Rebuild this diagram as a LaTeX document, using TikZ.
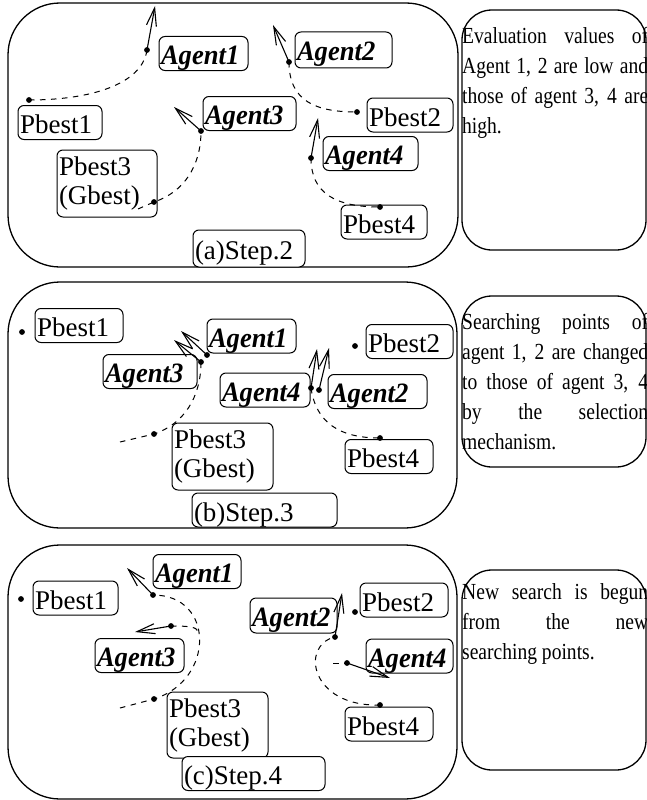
\documentclass[tikz,border=0pt]{standalone}
\usepackage{fontspec}
\setmainfont{Liberation Serif}
\newfontfamily\agentfont[FakeStretch=0.95]{Liberation Serif}
\newfontfamily\notefont[FakeStretch=0.85]{Liberation Serif}
\usetikzlibrary{arrows.meta, positioning, calc}
\newcommand{\jline}[1]{\makebox[186pt][s]{#1}}

\begin{document}
\begin{tikzpicture}[x=1pt, y=-1pt,
  panel/.style={draw, line width=1.3pt, rounded corners=52pt},
  notebox/.style={draw, line width=1.3pt, rounded corners=30pt},
  frame/.style={draw, line width=1pt, rounded corners=6pt, fill=white, inner sep=2pt, align=left,
    font=\rmfamily\fontsize{27}{29}\selectfont},
  box/.style={frame, text height=26pt, text depth=4pt},
  agent/.style={box, font=\agentfont\fontsize{28}{30}\selectfont\bfseries\itshape},
  note/.style={anchor=north west, inner sep=0pt, align=left, font=\notefont\fontsize{23}{30}\selectfont},
  trail/.style={dash pattern=on 5.5pt off 5.5pt, line width=1pt},
  move/.style={-{Straight Barb[length=18pt, width=10pt]}, line width=1.1pt}]
\fill[white] (0,0) rectangle (647,800);
\useasboundingbox (0,0) rectangle (647,800);

% frames
\draw[panel] (8,3) rectangle (458,267);
\draw[panel] (8,282) rectangle (457,528);
\draw[panel] (8,545) rectangle (457,799);
\draw[notebox] (462,10) rectangle (646,250);
\draw[notebox] (462,296) rectangle (646,467);
\draw[notebox] (462,570) rectangle (646,770);

% (a) step 2
\coordinate (p1a) at (29,100);
\coordinate (ag1a) at (147,50);
\coordinate (tip1a) at (155,6);
\coordinate (ag2a) at (289,62);
\coordinate (tip2a) at (273,25);
\coordinate (p2a) at (357,112);
\coordinate (ag3a) at (201,131);
\coordinate (tip3a) at (174,107);
\coordinate (p3a) at (154,202);
\coordinate (t3a) at (138,209);
\coordinate (ag4a) at (311,158);
\coordinate (tip4a) at (318,118);
\coordinate (p4a) at (380,207);

% (b) step 3
\coordinate (p1b) at (22,332);
\coordinate (p2b) at (355,346);
\coordinate (ag1b) at (207,355);
\coordinate (tip1b) at (181,331);
\coordinate (ag3b) at (201,362);
\coordinate (tip3b) at (174,340);
\coordinate (p3b) at (154,434);
\coordinate (t3b) at (120,442);
\coordinate (ag4b) at (311,388);
\coordinate (tip4b) at (317,349);
\coordinate (ag2b) at (319,390);
\coordinate (tip2b) at (329,348);
\coordinate (p4b) at (380,438);

% (c) step 4
\coordinate (p1c) at (21,599);
\coordinate (p2c) at (355,612);
\coordinate (ag1c) at (153,595);
\coordinate (tip1c) at (127,568);
\coordinate (ag3c) at (171,626);
\coordinate (tip3c) at (135,632);
\coordinate (j3c) at (198,633);
\coordinate (p3c) at (154,699);
\coordinate (t3c) at (120,708);
\coordinate (ag2c) at (335,637);
\coordinate (tip2c) at (342,593);
\coordinate (ag4c) at (347,663);
\coordinate (tip4c) at (390,678);
\coordinate (j4c) at (333,663);
\coordinate (p4c) at (380,705);

\draw[trail] (t3b) -- (p3b) .. controls +(30,-10) and +(0,35) .. (ag3b);

\node[agent, text width=85pt, minimum height=33pt] (agent1a) at (203.5,53.5) {Agent1};
\node[agent, text width=93pt, minimum height=36pt] (agent2a) at (343.5,50) {Agent2};
\node[box, text width=80pt, minimum height=31pt] (pbest1a) at (60,122.5) {Pbest1};
\node[agent, text width=89pt, minimum height=33pt] (agent3a) at (249.5,113.5) {Agent3};
\node[box, text width=82pt, minimum height=34pt] (pbest2a) at (410,115) {Pbest2};
\node[agent, text width=91pt, minimum height=33pt] (agent4a) at (370.5,153.5) {Agent4};
\node[frame, text width=96pt, minimum height=67pt] (pbest3a) at (107,183.5) {Pbest3\\(Gbest)};
\node[box, text width=82pt, minimum height=30pt] (pbest4a) at (384,222) {Pbest4};
\node[box, text width=108pt, minimum height=37pt] (stepa) at (249,248.5) {(a)Step.2};

\node[box, text width=84pt, minimum height=33pt] (pbest1b) at (79,325.5) {Pbest1};
\node[agent, text width=85pt, minimum height=32pt] (agent1b) at (251.5,336) {Agent1};
\node[agent, text width=90pt, minimum height=33pt] (agent3b) at (150,371.5) {Agent3};
\node[box, text width=83pt, minimum height=33pt] (pbest2b) at (409.5,341.5) {Pbest2};
\node[agent, text width=86pt, minimum height=34pt] (agent4b) at (265,390) {Agent4};
\node[agent, text width=95pt, minimum height=33pt] (agent2b) at (377.5,391.5) {Agent2};
\node[frame, text width=97pt, minimum height=67pt] (pbest3b) at (222.5,456.5) {Pbest3\\(Gbest)};
\node[box, text width=84pt, minimum height=33pt] (pbest4b) at (389,456.5) {Pbest4};
\node[box, text width=141pt, minimum height=34pt] (stepb) at (264.5,510) {(b)Step.3};

\node[box, text width=81pt, minimum height=34pt] (pbest1c) at (75.5,598) {Pbest1};
\node[agent, text width=84pt, minimum height=33pt] (agent1c) at (197,571.5) {Agent1};
\node[agent, text width=85pt, minimum height=33pt] (agent3c) at (139.5,655.5) {Agent3};
\node[agent, text width=83pt, minimum height=35pt] (agent2c) at (293.5,615.5) {Agent2};
\node[box, text width=84pt, minimum height=34pt] (pbest2c) at (404,600) {Pbest2};
\node[agent, text width=83pt, minimum height=34pt] (agent4c) at (409.5,656) {Agent4};
\node[frame, text width=97pt, minimum height=66pt] (pbest3c) at (217.5,725) {Pbest3\\(Gbest)};
\node[box, text width=84pt, minimum height=34pt] (pbest4c) at (389,724) {Pbest4};
\node[box, text width=139pt, minimum height=33pt] (stepc) at (253.5,773.5) {(c)Step.4};

% searches
\draw[trail] (p1a) .. controls +(60,0) and +(-5,35) .. (ag1a);
\draw[trail] (ag2a) .. controls +(0,40) and +(-40,0) .. (p2a);
\draw[trail] (t3a) -- (p3a) .. controls +(30,-10) and +(0,35) .. (ag3a);
\draw[trail] (ag4a) .. controls +(0,35) and +(-45,0) .. (p4a);
\draw[trail] (ag4b) .. controls +(5,35) and +(-40,0) .. (p4b);
\draw[trail] (t3c) -- (p3c) .. controls +(61,-19) and +(62,0) .. (ag1c);
\draw[trail] (ag3c) .. controls +(20,0) and +(0,-6) .. (j3c);
\draw[trail] (p4c) .. controls +(-70,2) and +(-35,8) .. (ag2c);
\draw[trail] (j4c) -- (ag4c);

\draw[move] (ag1a) -- (tip1a);
\draw[move] (ag2a) -- (tip2a);
\draw[move] (ag3a) -- (tip3a);
\draw[move] (ag4a) -- (tip4a);
\draw[move] (ag1b) -- (tip1b);
\draw[move] (ag3b) -- (tip3b);
\draw[move] (ag4b) -- (tip4b);
\draw[move] (ag2b) -- (tip2b);
\draw[move] (ag1c) -- (tip1c);
\draw[move] (ag3c) -- (tip3c);
\draw[move] (ag2c) -- (tip2c);
\draw[move] (ag4c) -- (tip4c);

\foreach \d in {p1a,ag1a,ag2a,p2a,ag3a,p3a,ag4a,p4a,
  p1b,p2b,ag1b,ag3b,p3b,ag4b,ag2b,p4b,
  p1c,p2c,ag1c,ag3c,p3c,ag2c,ag4c,p4c}
  \fill (\d) circle (2.9pt);

% notes
\node[note] (notea) at (462,27) {\jline{Evaluation values of}\\ \jline{Agent 1, 2 are low and}\\
  \jline{those of agent 3, 4 are}\\ high.};
\node[note] (noteb) at (462,313) {\jline{Searching points of}\\ \jline{agent 1, 2 are changed}\\
  \jline{to those of agent 3, 4}\\ \jline{by the selection}\\ mechanism.};
\node[note] (notec) at (462,583) {\jline{New search is begun}\\ \jline{from the new}\\
  searching points.};
\end{tikzpicture}
\end{document}
